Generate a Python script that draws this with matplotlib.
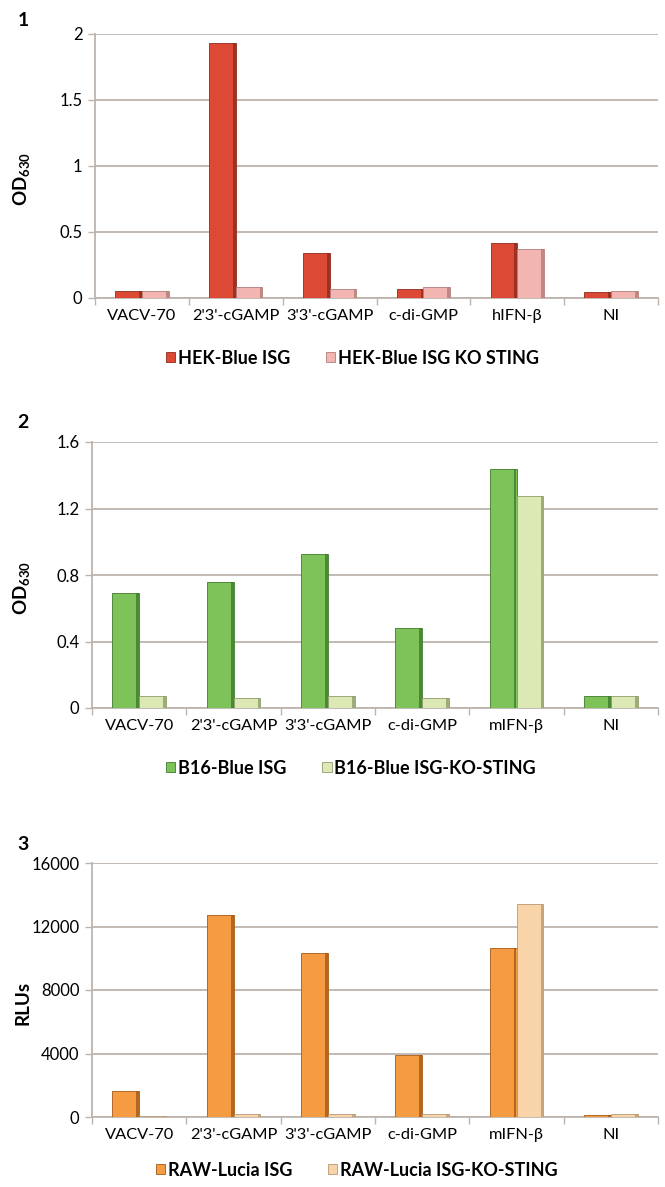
import matplotlib
matplotlib.use("Agg")
import matplotlib.pyplot as plt
import numpy as np
from matplotlib.patches import Patch

plt.rcParams['font.family'] = ['Lato', 'DejaVu Sans']
plt.rcParams['mathtext.fontset'] = 'custom'
plt.rcParams['mathtext.rm'] = 'Lato'
plt.rcParams['mathtext.bf'] = 'Lato:bold'

cats1 = ["VACV-70", "2'3'-cGAMP", "3'3'-cGAMP", "c-di-GMP", "hIFN-β", "NI"]
cats2 = ["VACV-70", "2'3'-cGAMP", "3'3'-cGAMP", "c-di-GMP", "mIFN-β", "NI"]

hek_isg = [0.056, 1.93, 0.34, 0.066, 0.42, 0.043]
hek_ko = [0.056, 0.08, 0.068, 0.08, 0.37, 0.056]

b16_isg = [0.69, 0.76, 0.925, 0.48, 1.44, 0.07]
b16_ko = [0.07, 0.06, 0.07, 0.06, 1.275, 0.07]

raw_isg = [1650, 12750, 10330, 3920, 10620, 100]
raw_ko = [80, 200, 200, 200, 13420, 200]

labels1 = ["HEK-Blue ISG", "HEK-Blue ISG KO STING"]
labels2 = ["B16-Blue ISG", "B16-Blue ISG-KO-STING"]
labels3 = ["RAW-Lucia ISG", "RAW-Lucia ISG-KO-STING"]

yt1 = [0, 0.5, 1, 1.5, 2]
yt1_lab = ["0", "0.5", "1", "1.5", "2"]
yt2 = [0, 0.4, 0.8, 1.2, 1.6]
yt2_lab = ["0", "0.4", "0.8", "1.2", "1.6"]
yt3 = [0, 4000, 8000, 12000, 16000]
yt3_lab = ["0", "4000", "8000", "12000", "16000"]

W, H = 665, 1187
fig = plt.figure(figsize=(W / 100, H / 100), dpi=100)

GRID = "#bdb4ae"


def fx(px):
    return px / W


def fy(py):
    return 1 - py / H


def panel(top, bottom, left, right, cats, s1, s2, yt, ytl, ymax, c1, e1, c2, e2,
          labels, ylabel, num, numy, legy, legx):
    ax = fig.add_axes([fx(left), fy(bottom), fx(right - left), (bottom - top) / H])
    x = np.arange(len(cats))
    bw = 0.285
    for vals, off, c, e in ((s1, -bw / 2, c1, e1), (s2, bw / 2, c2, e2)):
        ax.bar(x + off, vals, bw, color=c, edgecolor=e, linewidth=0.6, zorder=3)
        # thin darker right side for the 3-D look
        ax.bar(x + off + bw / 2 - 0.015, vals, 0.03, color=e, linewidth=0, zorder=4,
               alpha=0.8)
    ax.set_xlim(-0.5, len(cats) - 0.5)
    ax.set_ylim(0, ymax)
    ax.set_yticks(yt)
    ax.set_yticklabels(ytl, fontsize=12)
    ax.set_xticks(x)
    ax.set_xticklabels(cats, fontsize=11.8)
    ax.set_xticks(np.arange(len(cats) + 1) - 0.5, minor=True)
    ax.tick_params(axis='x', which='major', length=0, pad=8)
    ax.tick_params(axis='x', which='minor', length=5, color=GRID, width=1)
    ax.tick_params(axis='y', length=5, color=GRID, width=1, pad=4)
    ax.yaxis.grid(True, color=GRID, linewidth=1.3, zorder=0)
    ax.set_axisbelow(True)
    for s in ('top', 'right'):
        ax.spines[s].set_visible(False)
    for s in ('left', 'bottom'):
        ax.spines[s].set_color(GRID)
        ax.spines[s].set_linewidth(1.3)
    ax.set_ylabel(ylabel, fontsize=13.5, fontweight='bold')
    ax.yaxis.set_label_coords((32 - left) / (right - left), 0.45)
    fig.text(fx(23), fy(numy), num, fontsize=14, fontweight='bold',
             ha='center', va='center')
    handles = [Patch(facecolor=c1, edgecolor=e1, linewidth=0.6),
               Patch(facecolor=c2, edgecolor=e2, linewidth=0.6)]
    fig.legend(handles, labels, loc='center left', bbox_to_anchor=(fx(legx), fy(legy)),
               ncol=2, frameon=False, handlelength=0.5, handleheight=0.5,
               handletextpad=0.15, columnspacing=2.0,
               prop={'weight': 'bold', 'size': 13})
    return ax


panel(34, 298, 95, 658, cats1, hek_isg, hek_ko, yt1, yt1_lab, 2,
      "#dc4a36", "#8e2b1d", "#f3b5b2", "#b27d7a", labels1,
      r'$\mathbf{OD_{630}}$', "1", 20, 358, 150)
panel(442, 708, 92, 658, cats2, b16_isg, b16_ko, yt2, yt2_lab, 1.6,
      "#7ec25a", "#3f7b2b", "#dde9b5", "#8f9c6c", labels2,
      r'$\mathbf{OD_{630}}$', "2", 423, 768, 150)
panel(863, 1117, 92, 658, cats2, raw_isg, raw_ko, yt3, yt3_lab, 16000,
      "#f59b42", "#a55915", "#f9d4a8", "#b89a74", labels3,
      'RLUs', "3", 845, 1170, 140)

fig.savefig("out.png", dpi=100)
